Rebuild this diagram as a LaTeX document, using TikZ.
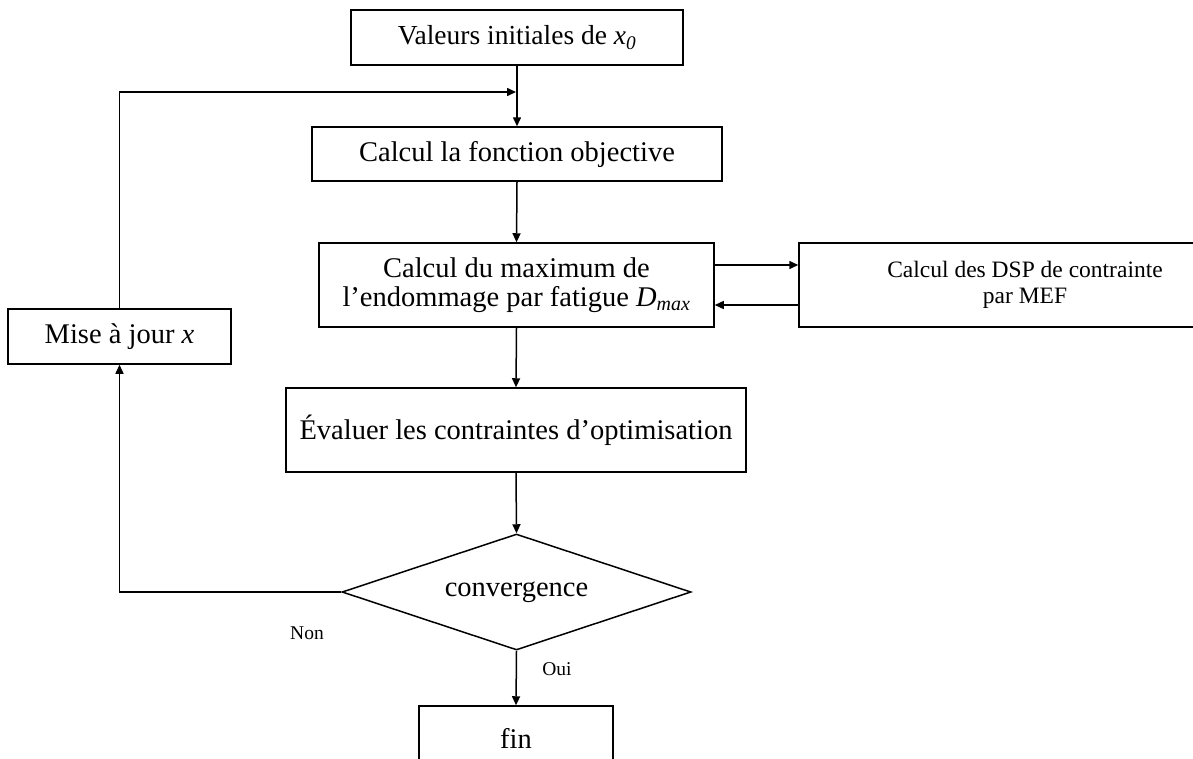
\documentclass[tikz,border=0pt]{standalone}
\usepackage{fontspec}
\setmainfont{Liberation Serif}
\usetikzlibrary{shapes.geometric,arrows.meta}
\begin{document}
\begin{tikzpicture}[x=1pt,y=-1pt,
  every node/.style={font=\fontsize{28.5}{29}\selectfont},
  box/.style={draw,line width=1.5pt,inner sep=0pt,align=center},
  arr/.style={line width=1.5pt,-{Triangle[length=9pt,width=8pt]}},
  small/.style={font=\fontsize{19.5}{21}\selectfont}]
\useasboundingbox (0,0) rectangle (1193,758);
\begin{scope}
\clip (0,0) rectangle (1193,758);
\node[box,minimum width=332pt,minimum height=55pt,font=\fontsize{27.5}{29}\selectfont] (b1) at (517,37.5) {Valeurs initiales de \textit{x\textsubscript{0}}};
\node[box,minimum width=410pt,minimum height=54pt] (b2) at (517,154) {Calcul la fonction objective};
\node[box,minimum width=395pt,minimum height=84pt] (b3) at (516.5,285) {Calcul du maximum de\\l’endommage par fatigue \textit{D\textsubscript{max}}};
\node[box,minimum width=452pt,minimum height=84pt,font=\fontsize{23.5}{26}\selectfont] (b4) at (1025,285) {Calcul des DSP de contrainte\\par MEF};
\node[box,minimum width=223pt,minimum height=55pt] (b5) at (119.5,336.5) {Mise à jour \textit{x}};
\node[box,minimum width=460pt,minimum height=84pt] (b6) at (516,430) {Évaluer les contraintes d’optimisation};
\node[draw,diamond,aspect=3,line width=1.5pt,inner sep=0pt,minimum width=349pt,minimum height=116pt] (d) at (516.5,592) {convergence};
\node[box,minimum width=194pt,minimum height=64pt] (fin) at (516,738) {fin};
\coordinate (j) at (516,92);
\node[small] (non) at (307,633) {Non};
\node[small] (oui) at (557,669) {Oui};
\draw[arr] (b1.south) -- (b2.north);
\draw[arr] (b2.south) -- (b3.north);
\draw[arr] ([yshift=20pt]b3.east) -- ([yshift=20pt]b4.west);
\draw[arr] ([yshift=-20pt]b4.west) -- ([yshift=-20pt]b3.east);
\draw[arr] (b3.south) -- (b6.north);
\draw[arr] (b6.south) -- (d.north);
\draw[arr] (d.south) -- (fin.north);
\draw[arr] (d.west) -| (b5.south);
\draw[arr] (b5.north) |- (j);
\end{scope}
\end{tikzpicture}
\end{document}
